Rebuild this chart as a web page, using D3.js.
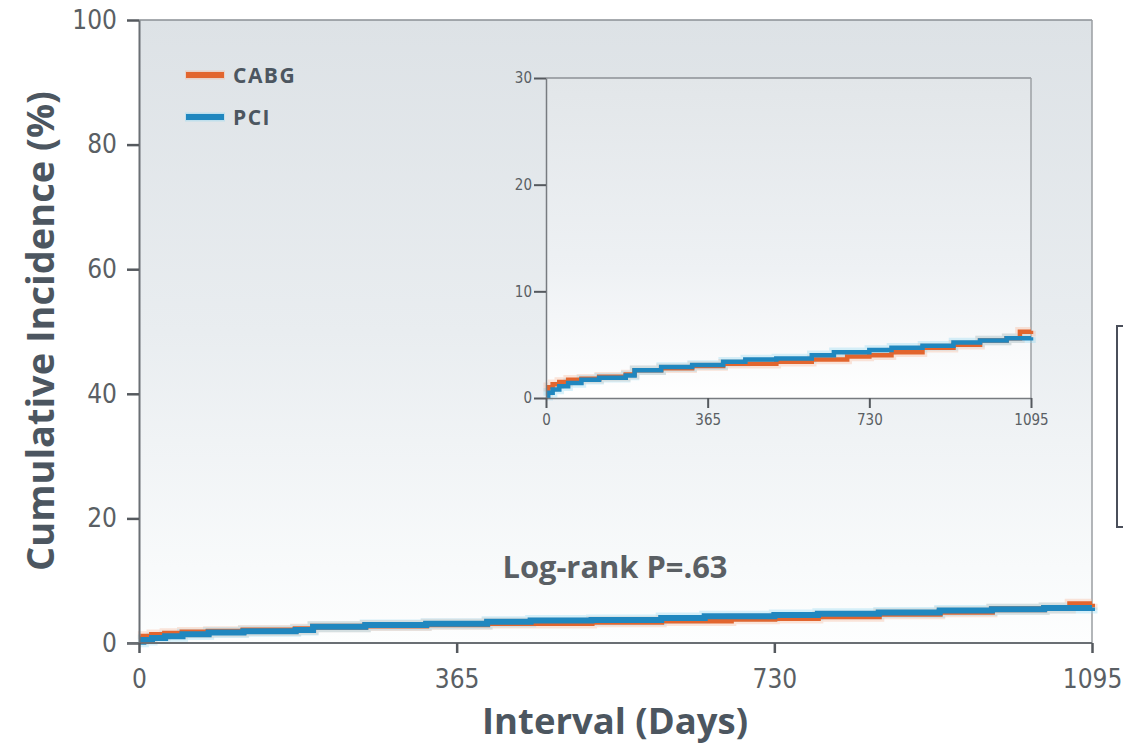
<!DOCTYPE html>
<html><head><meta charset="utf-8">
<script src="https://cdn.jsdelivr.net/npm/d3@7"></script>
<style>
html,body{margin:0;padding:0;background:#fff;}
svg{display:block;}
</style></head>
<body>
<svg id="chart" width="1123" height="746"></svg>
<script>
// ---- data ----
const xTicks = [0, 365, 730, 1095];
const yTicksMain = [0, 20, 40, 60, 80, 100];
const yTicksInset = [0, 10, 20, 30];
const seriesNames = ["CABG", "PCI"];
const cabgDays = [0, 5, 15, 30, 50, 80, 120, 180, 200, 260, 330, 400, 450, 520, 600, 680, 730, 780, 850, 920, 980, 1040, 1070, 1095];
const cabgVals = [0.6, 1.0, 1.3, 1.5, 1.7, 1.8, 2.0, 2.2, 2.6, 2.8, 3.0, 3.2, 3.2, 3.4, 3.6, 3.9, 4.0, 4.3, 4.7, 5.0, 5.4, 5.6, 6.2, 6.3];
const pciDays = [0, 5, 15, 30, 50, 80, 120, 180, 200, 260, 330, 400, 450, 520, 600, 650, 730, 780, 850, 920, 980, 1040, 1095];
const pciVals = [0.2, 0.5, 0.8, 1.1, 1.4, 1.7, 1.9, 2.1, 2.6, 2.9, 3.1, 3.4, 3.6, 3.7, 4.0, 4.3, 4.5, 4.7, 4.9, 5.2, 5.4, 5.6, 5.7];
const pText = "Log-rank P=.63";

// ---- styles ----
const colors = {CABG: "#e2652e", PCI: "#2087bf"};
const glow = {CABG: "#f6b595", PCI: "#8fd6f2"};
const textCol = "#4c5660";
const tickFont = "'DejaVu Sans Condensed','DejaVu Sans','Liberation Sans Narrow',sans-serif";
const boldFont = "'Open Sans','Noto Sans',sans-serif";

const svg = d3.select("#chart");
const defs = svg.append("defs");
const grad = defs.append("linearGradient").attr("id", "bg").attr("x1", 0).attr("y1", 0).attr("x2", 0).attr("y2", 1);
grad.append("stop").attr("offset", "0%").attr("stop-color", "#dde2e6");
grad.append("stop").attr("offset", "50%").attr("stop-color", "#e9edf0");
grad.append("stop").attr("offset", "88%").attr("stop-color", "#f8fafb");
grad.append("stop").attr("offset", "100%").attr("stop-color", "#fdfefe");
const grad2 = defs.append("linearGradient").attr("id", "bg2").attr("x1", 0).attr("y1", 0).attr("x2", 0).attr("y2", 1);
grad2.append("stop").attr("offset", "0%").attr("stop-color", "#e2e6e9");
grad2.append("stop").attr("offset", "60%").attr("stop-color", "#eef1f4");
grad2.append("stop").attr("offset", "100%").attr("stop-color", "#ffffff");

// ---- main scales ----
const x = d3.scaleLinear().domain([0, 1095]).range([139, 1092]);
const y = d3.scaleLinear().domain([0, 100]).range([643, 20]);

svg.append("rect").attr("x", x(0)).attr("y", y(100)).attr("width", x(1095) - x(0)).attr("height", y(0) - y(100)).attr("fill", "url(#bg)");

// frame top/right
svg.append("line").attr("x1", x(0)).attr("x2", x(1095)).attr("y1", y(100)).attr("y2", y(100)).attr("stroke", "#8a8f94").attr("stroke-width", 1.5);
svg.append("line").attr("x1", x(1095)).attr("x2", x(1095)).attr("y1", y(100)).attr("y2", y(0)).attr("stroke", "#9a9ea2").attr("stroke-width", 1.5);

// bracket on right edge
svg.append("path").attr("d", "M1135,326H1117V527H1135").attr("fill", "none").attr("stroke", "#4a4f5a").attr("stroke-width", 2);

function makeLine(xs, ys) {
  return d3.line().x(d => xs(d[0])).y(d => ys(d[1])).curve(d3.curveStepAfter);
}
const dataC = cabgDays.map((d, i) => [d, cabgVals[i]]);
const dataP = pciDays.map((d, i) => [d, pciVals[i]]);

function drawCurves(g, xs, ys, w) {
  const ln = makeLine(xs, ys);
  [["CABG", dataC], ["PCI", dataP]].forEach(([n, d]) => {
    g.append("path").datum(d).attr("d", ln).attr("fill", "none").attr("stroke", glow[n]).attr("stroke-width", w + 5).attr("stroke-opacity", 0.35);
  });
  [["CABG", dataC], ["PCI", dataP]].forEach(([n, d]) => {
    g.append("path").datum(d).attr("d", ln).attr("fill", "none").attr("stroke", colors[n]).attr("stroke-width", w);
  });
}
drawCurves(svg.append("g"), x, y, 6);

// main axes
const fmt = d3.format("d");
const yAxis = svg.append("g").attr("transform", `translate(${x(0)},0)`)
  .call(d3.axisLeft(y).tickValues(yTicksMain).tickFormat(fmt).tickSize(12).tickSizeOuter(0).tickPadding(10));
const xAxis = svg.append("g").attr("transform", `translate(0,${y(0)})`)
  .call(d3.axisBottom(x).tickValues(xTicks).tickFormat(fmt).tickSize(10).tickSizeOuter(0).tickPadding(17));
[yAxis, xAxis].forEach(a => {
  a.select(".domain").attr("stroke", "#6a6f74").attr("stroke-width", 2);
  a.selectAll(".tick line").attr("stroke", "#55595e").attr("stroke-width", 2.5);
  a.selectAll(".tick text").attr("font-family", tickFont).attr("font-stretch", "condensed").attr("font-size", 26).attr("fill", "#5a5f64");
});
xAxis.select(".domain").attr("d", `M${x(0) - 12},0H${x(1095)}`);

// axis titles
svg.append("text").attr("transform", "translate(54,331) rotate(-90)").attr("text-anchor", "middle")
  .attr("font-family", boldFont).attr("font-weight", 700).attr("font-size", 37).attr("fill", textCol)
  .attr("textLength", 480).attr("lengthAdjust", "spacingAndGlyphs")
  .text("Cumulative Incidence (%)");
svg.append("text").attr("x", 615).attr("y", 734).attr("text-anchor", "middle")
  .attr("font-family", boldFont).attr("font-weight", 700).attr("font-size", 36).attr("fill", textCol)
  .attr("textLength", 266).attr("lengthAdjust", "spacingAndGlyphs")
  .text("Interval (Days)");

svg.append("text").attr("x", 615).attr("y", 578).attr("text-anchor", "middle")
  .attr("font-family", boldFont).attr("font-weight", 700).attr("font-size", 30).attr("fill", "#5a5f64")
  .attr("textLength", 225).attr("lengthAdjust", "spacingAndGlyphs")
  .text(pText);

// legend
seriesNames.forEach((n, i) => {
  const ly = 75 + i * 42;
  svg.append("line").attr("x1", 185).attr("x2", 225).attr("y1", ly).attr("y2", ly).attr("stroke", glow[n]).attr("stroke-width", 9).attr("stroke-opacity", 0.4);
  svg.append("line").attr("x1", 186).attr("x2", 224).attr("y1", ly).attr("y2", ly).attr("stroke", colors[n]).attr("stroke-width", 6);
  svg.append("text").attr("x", 233).attr("y", ly + 8).attr("font-family", boldFont).attr("font-weight", 700)
    .attr("font-size", 21).attr("letter-spacing", 1.5).attr("fill", textCol).text(n);
});

// ---- inset ----
const xi = d3.scaleLinear().domain([0, 1095]).range([546, 1031]);
const yi = d3.scaleLinear().domain([0, 30]).range([398, 78]);
svg.append("rect").attr("x", xi(0)).attr("y", yi(30)).attr("width", xi(1095) - xi(0)).attr("height", yi(0) - yi(30)).attr("fill", "url(#bg2)");
svg.append("line").attr("x1", xi(0)).attr("x2", xi(1095)).attr("y1", yi(30)).attr("y2", yi(30)).attr("stroke", "#8d9196").attr("stroke-width", 1.5);
svg.append("line").attr("x1", xi(1095)).attr("x2", xi(1095)).attr("y1", yi(30)).attr("y2", yi(0)).attr("stroke", "#9da1a5").attr("stroke-width", 1.5);
drawCurves(svg.append("g"), xi, yi, 4.5);
const yiAxis = svg.append("g").attr("transform", `translate(${xi(0)},0)`)
  .call(d3.axisLeft(yi).tickValues(yTicksInset).tickFormat(fmt).tickSize(12).tickSizeOuter(0).tickPadding(2));
const xiAxis = svg.append("g").attr("transform", `translate(0,${yi(0)})`)
  .call(d3.axisBottom(xi).tickValues(xTicks).tickFormat(fmt).tickSize(10).tickSizeOuter(0).tickPadding(6));
[yiAxis, xiAxis].forEach(a => {
  a.select(".domain").attr("stroke", "#777b80").attr("stroke-width", 1.5);
  a.selectAll(".tick line").attr("stroke", "#55595e").attr("stroke-width", 2);
  a.selectAll(".tick text").attr("font-family", tickFont).attr("font-stretch", "condensed").attr("font-size", 15).attr("fill", "#5a5f64");
});
</script>
</body></html>
